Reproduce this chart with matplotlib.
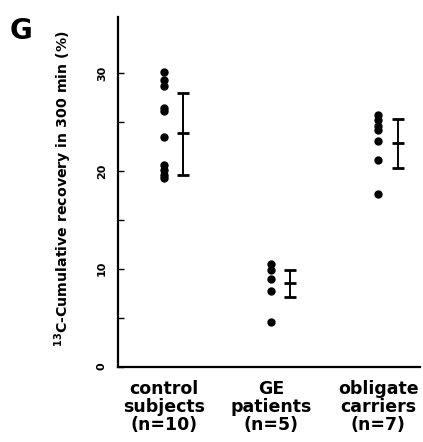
import numpy as np
import matplotlib
matplotlib.use("Agg")
import matplotlib.pyplot as plt

plt.rcParams['font.family'] = ['DejaVu Sans']
plt.rcParams['mathtext.fontset'] = 'dejavusans'

# data
categories = ["control\nsubjects\n(n=10)", "GE\npatients\n(n=5)", "obligate\ncarriers\n(n=7)"]
control = [30.1, 29.3, 28.7, 26.4, 26.1, 23.5, 20.6, 20.1, 19.6, 19.3]
ge_patients = [10.5, 9.9, 9.0, 7.7, 4.6]
carriers = [25.7, 25.2, 24.6, 24.2, 23.1, 21.1, 17.6]
group_means = [23.9, 8.5, 22.9]
err_low = [19.6, 7.1, 20.3]
err_high = [28.0, 9.9, 25.3]

groups = [control, ge_patients, carriers]

fig = plt.figure(figsize=(4.23, 4.42), dpi=100)
ax = fig.add_axes([0.279, 0.1706, 0.714, 0.791])

for i, vals in enumerate(groups):
    ax.plot([i] * len(vals), vals, 'o', color='black', markersize=5, clip_on=False)

xs = np.arange(3) + 0.18
means = np.array(group_means)
yerr = [means - np.array(err_low), np.array(err_high) - means]
ax.errorbar(xs, means, yerr=yerr, fmt='_', color='black', markersize=9,
            mew=2, elinewidth=1.4, capsize=4, capthick=1.4)

ax.set_xlim(-0.43, 2.39)
ax.set_ylim(0, 35.75)
ax.set_yticks([0, 10, 20, 30])
ax.set_yticks([5, 15, 25], minor=True)
ax.tick_params(axis='y', which='both', direction='in', length=4, width=1,
               labelsize=8, pad=8, labelrotation=90)
for lab in ax.get_yticklabels():
    lab.set_fontweight('bold')
    lab.set_va('center')
ax.set_xticks(range(3))
ax.set_xticklabels(categories, fontsize=12.5, fontweight='bold', linespacing=1.0)
ax.tick_params(axis='x', length=0, pad=10)

ax.spines['top'].set_visible(False)
ax.spines['right'].set_visible(False)
ax.spines['left'].set_linewidth(1.6)
ax.spines['bottom'].set_linewidth(1.6)

ax.set_ylabel(r'$^{\mathbf{13}}$C-Cumulative recovery in 300 min (%)', fontsize=10.2,
              fontweight='bold')
ax.yaxis.set_label_coords(-0.146, 0.509)

fig.text(0.022, 0.962, 'G', fontsize=20, fontweight='bold', va='top', ha='left')

plt.savefig('out.png', dpi=100)
